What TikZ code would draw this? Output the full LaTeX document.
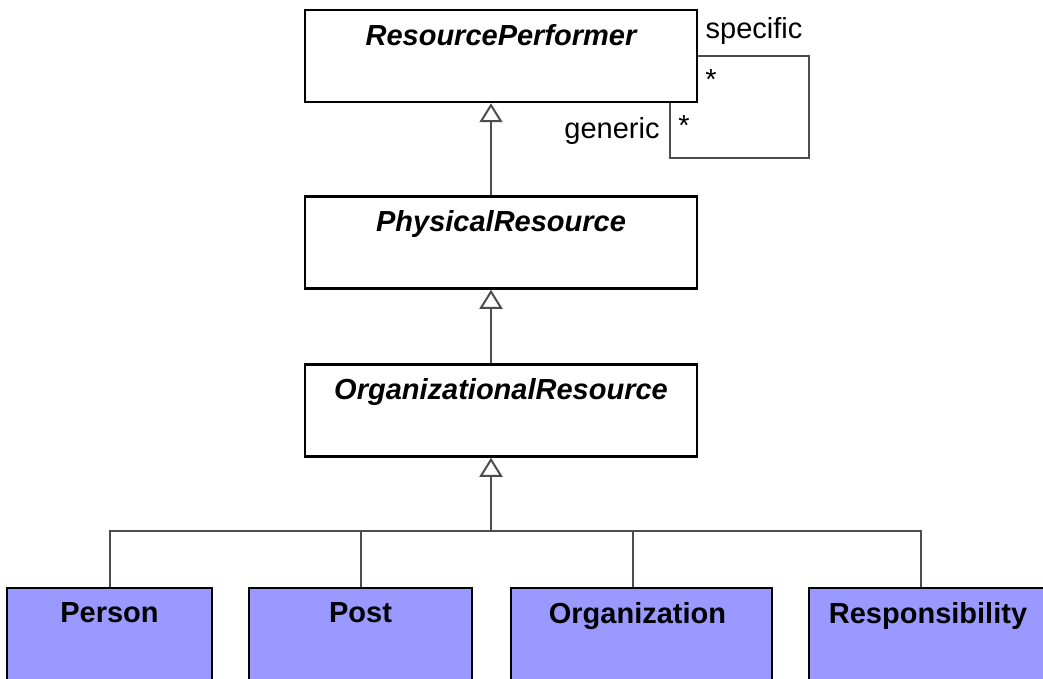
\documentclass[tikz,border=0pt]{standalone}
\usepackage{fontspec}
\setmainfont{Liberation Sans}
\usetikzlibrary{arrows.meta}
\definecolor{leafblue}{HTML}{9999FF}
\definecolor{linegray}{HTML}{4D4D4D}
\newcommand{\umlfont}{\fontsize{14.5}{17}\selectfont}
\begin{document}
\begin{tikzpicture}[
  x=0.5pt, y=-0.5pt,
  every node/.style={font=\umlfont},
  classbox/.style={draw=black, line width=1.25pt, fill=white,
    minimum width=196pt, minimum height=46pt, inner sep=0pt},
  leafbox/.style={classbox, fill=leafblue},
  title/.style={anchor=north, inner sep=0pt, yshift=-7.5pt},
  conn/.style={draw=linegray, line width=1pt},
  inherit/.style={conn, -{Triangle[open, fill=white, width=11.5pt, length=9.5pt]}},
]
\useasboundingbox (0,0) rectangle (1043,679);

% ---- Abstract classes ----
\node[classbox, label={[title]north:{\bfseries\itshape ResourcePerformer}}]
  (rp) at (501, 56) {};
\node[classbox, label={[title]north:{\bfseries\itshape PhysicalResource}}]
  (pr) at (501, 242.5) {};
\node[classbox, label={[title]north:{\bfseries\itshape OrganizationalResource}}]
  (or) at (501, 410.5) {};

% ---- Concrete classes ----
\node[leafbox, minimum width=102.5pt, label={[title]north:{\bfseries Person}}]
  (person) at (109.5, 634) {};
\node[leafbox, minimum width=111.5pt, label={[title]north:{\bfseries Post}}]
  (post) at (360.5, 634) {};
\node[leafbox, minimum width=130.5pt,
  label={[title, xshift=-2pt]north:{\bfseries Organization}}]
  (org) at (641.5, 634) {};
\node[leafbox, minimum width=119pt, label={[title]north:{\bfseries Responsibility}}]
  (resp) at (928, 634) {};

% ---- Generalizations ----
\draw[inherit] ([xshift=-5pt]pr.north) -- ([xshift=-5pt]rp.south);
\draw[inherit] ([xshift=-5pt]or.north) -- ([xshift=-5pt]pr.south);

\coordinate (bus) at (491, 531);
\draw[inherit] (bus) -- ([xshift=-5pt]or.south);
\draw[conn] (person.north) |- (bus);
\draw[conn] (post.north) |- (bus);
\draw[conn] ([xshift=-4.25pt]org.north) |- (bus);
\draw[conn] ([xshift=-3.5pt]resp.north) |- (bus);

% ---- Self association ----
\coordinate (self) at (809, 158);
\draw[conn] (rp.east) -| (self) -| ([xshift=84.5pt]rp.south);
\node (specific) at (754, 31) {specific};
\node (specmult) at (711, 80) {*};
\node (generic) at (612, 131) {generic};
\node (genmult) at (684, 126) {*};

\end{tikzpicture}
\end{document}
